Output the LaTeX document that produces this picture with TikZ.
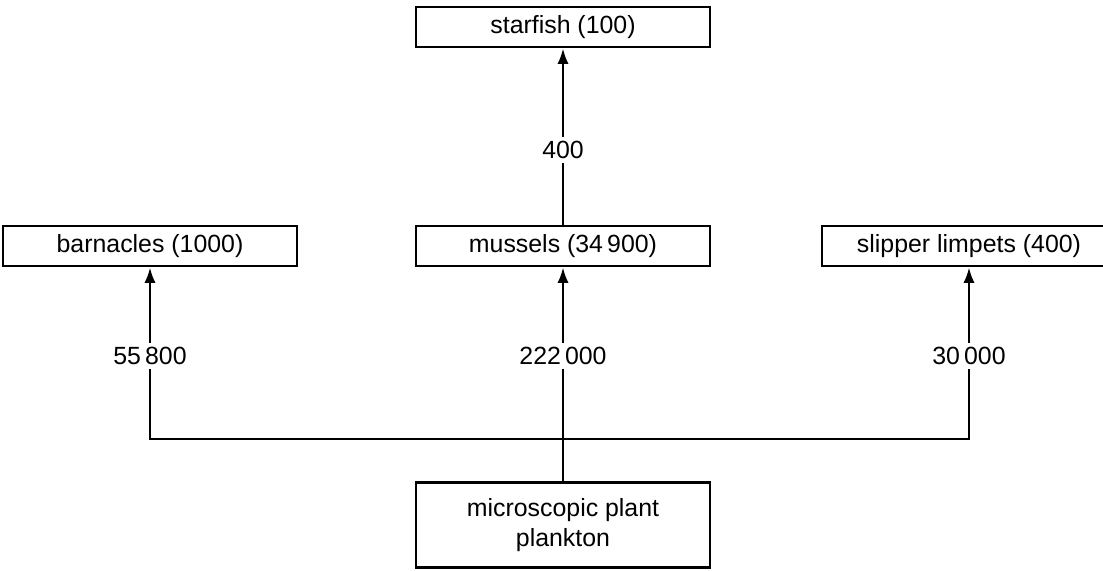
\documentclass[tikz,border=0pt]{standalone}
\usepackage{fontspec}
\setmainfont{Liberation Sans}
\usetikzlibrary{arrows.meta}

\tikzset{
  foodbox/.style={draw,line width=1.9pt,minimum width=7.35cm,minimum height=1cm,
    align=center,font=\fontsize{17.7}{21}\selectfont},
  flowlabel/.style={fill=white,inner sep=3pt,font=\fontsize{17.7}{21}\selectfont},
  feeds/.style={line width=1.9pt,-{Latex[length=11pt,width=8pt]}}
}

\begin{document}
\begin{tikzpicture}
    \useasboundingbox (0,0) rectangle (27.575,-14.25);

    \node[foodbox] (starfish) at (14.075,-0.675) {starfish (100)};
    \node[foodbox] (barnacles) at (3.75,-6.15) {barnacles (1000)};
    \node[foodbox] (mussels) at (14.075,-6.15) {mussels (34\,900)};
    \node[foodbox] (limpets) at (24.225,-6.15) {slipper limpets (400)};
    \node[foodbox,minimum height=2.125cm] (plankton) at (14.075,-13.125) {microscopic plant\\plankton};

    \coordinate (split) at (14.075,-10.975);

    \draw[line width=1.9pt] (plankton.north) -- (split);
    \draw[feeds] (split) -- node[flowlabel,pos=0.486] (f2) {222\,000} (mussels.south);
    \draw[feeds] (split) -| node[flowlabel,pos=0.743] (f1) {55\,800} (barnacles.south);
    \draw[feeds] (split) -| node[flowlabel,pos=0.743] (f3) {30\,000} (limpets.south);
    \draw[feeds] (mussels.north) -- node[flowlabel,pos=0.425] (f4) {400} (starfish.south);
\end{tikzpicture}
\end{document}
